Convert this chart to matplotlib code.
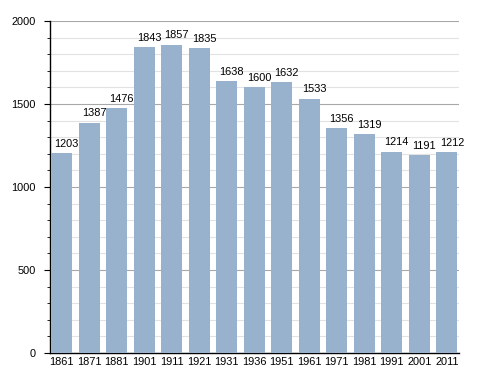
import numpy as np
import matplotlib
matplotlib.use('Agg')
import matplotlib.pyplot as plt
from matplotlib.ticker import MultipleLocator

years = ['1861', '1871', '1881', '1901', '1911', '1921', '1931', '1936',
         '1951', '1961', '1971', '1981', '1991', '2001', '2011']
population = [1203, 1387, 1476, 1843, 1857, 1835, 1638, 1600,
              1632, 1533, 1356, 1319, 1214, 1191, 1212]


def main():
    plt.rcParams['font.family'] = ['Liberation Sans', 'DejaVu Sans']

    fig = plt.figure(figsize=(4.88, 3.73), dpi=100)
    ax = fig.add_axes([0.1025, 0.0536, 0.838, 0.89])

    x = np.arange(len(years))
    ax.bar(x, population, width=0.76, color='#98b1cc', zorder=3)

    # value labels sit a little right of the bar centre in the original
    for xi, v in zip(x, population):
        ax.text(xi + 0.18, v + 26, str(v), ha='center', va='bottom', fontsize=7.9, zorder=4)

    ax.set_xlim(-0.42, len(years) - 0.56)
    ax.set_ylim(0, 2000)
    ax.set_xticks(x)
    ax.set_xticklabels(years, fontsize=7.9)
    ax.yaxis.set_major_locator(MultipleLocator(500))
    ax.yaxis.set_minor_locator(MultipleLocator(100))
    ax.tick_params(axis='y', labelsize=7.9, length=4, width=0.8, pad=6)
    ax.tick_params(axis='y', which='minor', length=2.5, width=0.6)
    ax.tick_params(axis='x', length=0, pad=3)

    ax.grid(axis='y', which='major', color='#a8a8a8', linewidth=0.8, zorder=0)
    ax.grid(axis='y', which='minor', color='#e2e2e2', linewidth=0.8, zorder=0)
    ax.set_axisbelow(True)

    for s in ['top', 'right']:
        ax.spines[s].set_visible(False)
    ax.spines['left'].set_linewidth(1.0)
    ax.spines['bottom'].set_linewidth(1.0)

    fig.savefig('out.png', dpi=100)


if __name__ == '__main__':
    main()
